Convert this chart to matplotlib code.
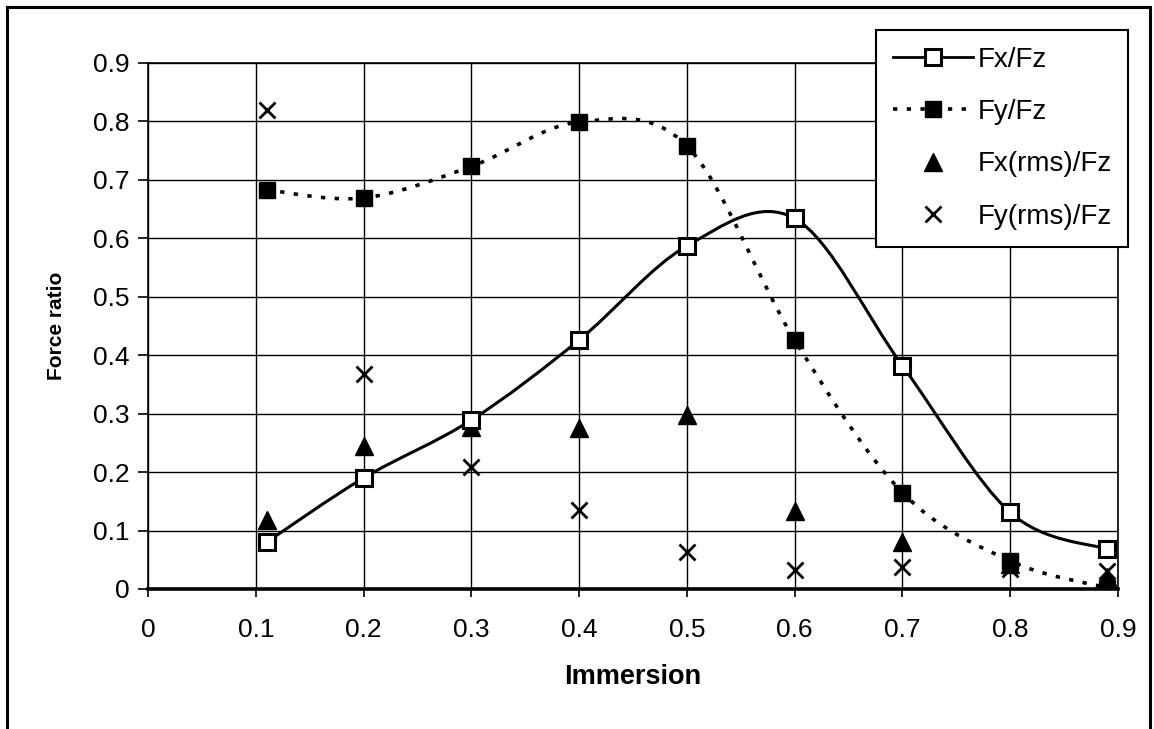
import numpy as np
import matplotlib as mpl
mpl.use('Agg')
import matplotlib.pyplot as plt
from matplotlib.path import Path
from matplotlib import patches

mpl.rc('font', family=['Liberation Sans', 'DejaVu Sans'], size=18)
mpl.rc('axes', linewidth=1.2)
mpl.rc('xtick', labelsize=19, direction='out')
mpl.rc('ytick', labelsize=19, direction='out')
mpl.rc('xtick.major', size=6, width=1.2, pad=15)
mpl.rc('ytick.major', size=7, width=1.2, pad=6)

# --- data ---
immersion = [0.11, 0.2, 0.3, 0.4, 0.5, 0.6, 0.7, 0.8, 0.89]
fx_fz = [0.080, 0.190, 0.289, 0.426, 0.587, 0.634, 0.382, 0.131, 0.068]
fy_fz = [0.683, 0.669, 0.723, 0.799, 0.758, 0.426, 0.165, 0.048, 0.002]
fx_rms_fz = [0.118, 0.245, 0.278, 0.276, 0.297, 0.134, 0.080, 0.042, 0.020]
fy_rms_fz = [0.820, 0.368, 0.208, 0.136, 0.064, 0.033, 0.038, 0.035, 0.030]

xticks = [0, 0.1, 0.2, 0.3, 0.4, 0.5, 0.6, 0.7, 0.8, 0.9]
yticks = [0, 0.1, 0.2, 0.3, 0.4, 0.5, 0.6, 0.7, 0.8, 0.9]

dots = (0, (1.2, 2.6))


def smooth_path(x, y):
    """Excel-style smoothed line: Catmull-Rom segments as cubic Beziers."""
    pts = np.column_stack([x, y])
    n = len(pts)
    verts = [pts[0]]
    codes = [Path.MOVETO]
    for i in range(n - 1):
        p0 = pts[max(i - 1, 0)]
        p1 = pts[i]
        p2 = pts[i + 1]
        p3 = pts[min(i + 2, n - 1)]
        verts += [p1 + (p2 - p0) / 6.0, p2 - (p3 - p1) / 6.0, p2]
        codes += [Path.CURVE4] * 3
    return Path(verts, codes)


fig = plt.figure(figsize=(11.54, 7.29), dpi=100)
ax = fig.add_axes([148/1154, 1 - 589/729, (1118 - 148)/1154, (589 - 63)/729])

# outer frame of the original figure
fig.patches.append(patches.Rectangle((7/1154, -0.05), (1150 - 7)/1154, 1 - 7/729 + 0.05,
                                     transform=fig.transFigure, fill=False,
                                     edgecolor='black', linewidth=2.2))

ax.grid(True, color='black', linewidth=1.0)
ax.set_axisbelow(True)

# smoothed curves
ax.add_patch(patches.PathPatch(smooth_path(immersion, fx_fz), fill=False,
                               edgecolor='black', linewidth=2.2, zorder=3))
ax.add_patch(patches.PathPatch(smooth_path(immersion, fy_fz), fill=False,
                               edgecolor='black', linewidth=2.6,
                               linestyle=dots, zorder=3))

# markers on the data points
ax.plot(immersion, fx_fz, linestyle='none', marker='s', markersize=11.5,
        markerfacecolor='white', markeredgecolor='black',
        markeredgewidth=2.2, zorder=5)
ax.plot(immersion, fy_fz, linestyle='none', marker='s', markersize=11.5,
        color='black', zorder=5)
h_fxr, = ax.plot(immersion, fx_rms_fz, linestyle='none', marker='^',
                 markersize=12.5, color='black', zorder=4)
h_fyr, = ax.plot(immersion, fy_rms_fz, linestyle='none', marker='x',
                 markersize=11, markeredgewidth=2.0, color='black', zorder=4)

# legend handles for the smoothed series
h_fx, = ax.plot([], [], linestyle='-', color='black', linewidth=2.0,
                marker='s', markersize=11, markerfacecolor='white',
                markeredgecolor='black', markeredgewidth=2.2)
h_fy, = ax.plot([], [], linestyle=dots, color='black', linewidth=2.6,
                marker='s', markersize=11)

ax.set_xlim(0, 0.9)
ax.set_ylim(0, 0.9)
ax.set_xticks(xticks)
ax.set_yticks(yticks)
ax.set_xticklabels(['{0:g}'.format(t) for t in xticks])
ax.set_yticklabels(['{0:g}'.format(t) for t in yticks])
ax.spines['bottom'].set_linewidth(2.6)

ax.set_xlabel('Immersion', fontsize=19.5, fontweight='bold', labelpad=16)
ax.set_ylabel('Force ratio', fontsize=15, fontweight='bold', labelpad=20)

leg = fig.legend([h_fx, h_fy, h_fxr, h_fyr],
                 ['Fx/Fz', 'Fy/Fz', 'Fx(rms)/Fz', 'Fy(rms)/Fz'],
                 loc='upper left', bbox_to_anchor=(876/1154, 1 - 30/729),
                 bbox_transform=fig.transFigure, borderaxespad=0,
                 fontsize=20, numpoints=1, handlelength=2.9,
                 handletextpad=0.15, labelspacing=0.95, borderpad=0.6,
                 fancybox=False, framealpha=1, edgecolor='black')
leg.get_frame().set_linewidth(1.5)

fig.savefig('out.png', dpi=100)
